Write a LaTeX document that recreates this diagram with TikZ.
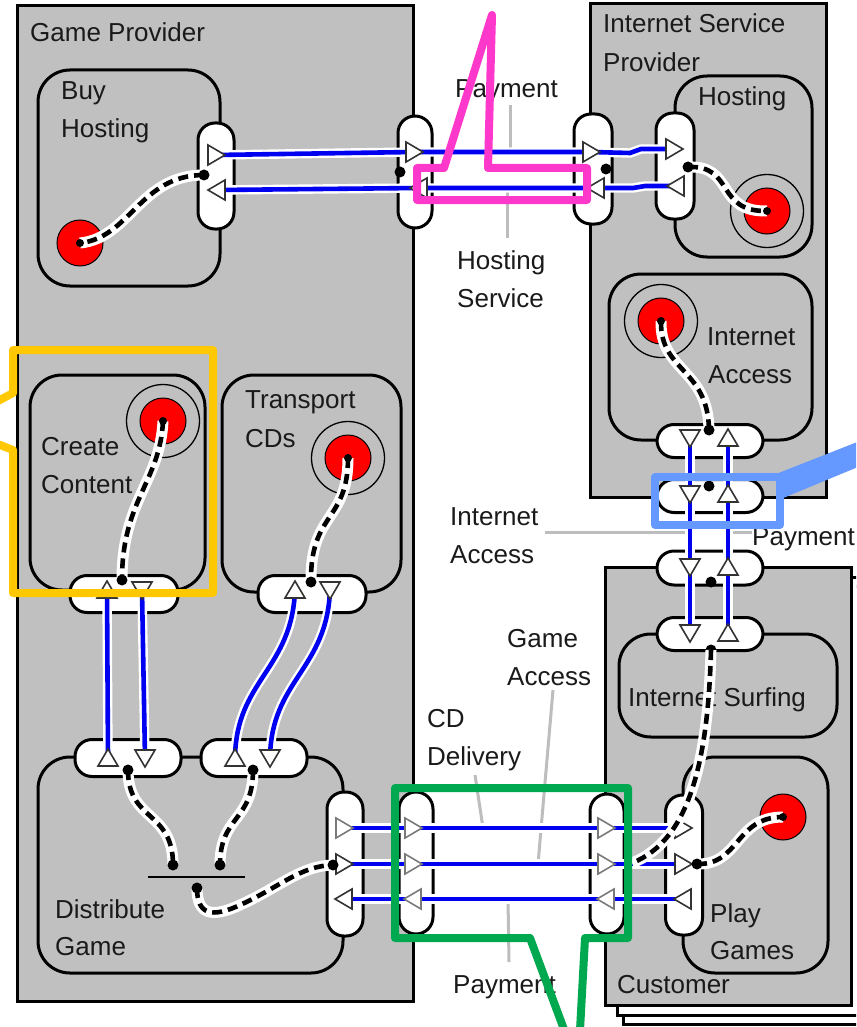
\documentclass[tikz,border=0pt]{standalone}
\usepackage{fontspec}
\setmainfont{Liberation Sans}
\usetikzlibrary{calc}
\definecolor{boxgray}{HTML}{C0C0C0}
\definecolor{txt}{HTML}{1A1A1A}
\definecolor{leadgray}{HTML}{BDBDBD}
\definecolor{conblue}{HTML}{0000F0}
\definecolor{cmag}{HTML}{FF38CC}
\definecolor{cyel}{HTML}{FFC800}
\definecolor{cblu}{HTML}{6699FF}
\definecolor{cgrn}{HTML}{00A94F}
\definecolor{tridark}{HTML}{333333}
\definecolor{trigray}{HTML}{7A7A7A}
\tikzset{
  sysbox/.style={draw=black, line width=3pt, fill=boxgray, rectangle, inner sep=0pt},
  subbox/.style={draw=black, line width=3pt, fill=boxgray, rectangle, rounded corners=32pt, inner sep=0pt},
  pill/.style={draw=black, line width=3pt, fill=white, rectangle, rounded corners=17pt, inner sep=0pt},
  flow/.style={draw=white, line width=2.4pt, double=conblue, double distance=4.6pt},
  dflow/.style={preaction={draw=white, line width=11pt, solid}, draw=black, line width=4.6pt, dash pattern=on 10pt off 6pt},
  reddot/.style={circle, fill=red, draw=black, line width=1pt, minimum size=46pt, inner sep=0pt},
  ringc/.style={circle, draw=black, line width=1.3pt, minimum size=73pt, inner sep=0pt},
  bdot/.style={circle, fill=black, minimum size=11pt, inner sep=0pt},
  cdot/.style={circle, fill=black, minimum size=8pt, inner sep=0pt},
  lbl/.style={anchor=base west, inner sep=0pt, text=txt, font=\fontsize{26}{38}\selectfont},
  leader/.style={draw=leadgray, line width=3pt},
  calloutline/.style={line width=8pt, line join=round},
  tri/.pic={\path[draw=tridark, fill=white, line width=1.6pt] (-8,-10) -- (9,0) -- (-8,10) -- cycle;},
  trig/.pic={\path[draw=trigray, fill=white, line width=1.6pt] (-8,-10) -- (9,0) -- (-8,10) -- cycle;},
}
\begin{document}
\begin{tikzpicture}[x=1pt,y=-1pt]
\clip (0,0) rectangle (856,1027);
\fill[white] (0,0) rectangle (856,1027);

% ---------------- systems
\node[sysbox, fill=white, minimum width=246pt, minimum height=438pt] (cus3) at (746,805) {};
\node[sysbox, fill=white, minimum width=246pt, minimum height=438pt] (cus2) at (740,796) {};
\node[sysbox, minimum width=246pt, minimum height=438pt] (cus) at (728,786) {};
\node[sysbox, minimum width=396pt, minimum height=995pt] (gp) at (215,503.5) {};
\node[sysbox, minimum width=236pt, minimum height=493pt] (isp) at (708,250.5) {};

% ---------------- activities
\node[subbox, minimum width=182pt, minimum height=216pt] (bh) at (129,178) {};
\node[subbox, minimum width=137pt, minimum height=181pt] (ho) at (743.5,166.5) {};
\node[subbox, minimum width=203pt, minimum height=166pt] (ia) at (710.5,357) {};
\node[subbox, minimum width=175pt, minimum height=215pt] (cc) at (117.5,482.5) {};
\node[subbox, minimum width=179pt, minimum height=217pt] (tc) at (311.5,483.5) {};
\node[subbox, minimum width=305pt, minimum height=216pt] (dg) at (190.5,865) {};
\node[subbox, minimum width=218pt, minimum height=103pt] (is) at (728,685.5) {};
\node[subbox, minimum width=145pt, minimum height=216pt] (pg) at (755.5,865) {};

% ---------------- labels
\node[lbl] (lgp) at (30,42) {Game Provider};
\node[lbl] (lisp1) at (603,33) {Internet Service};
\node[lbl] (lisp2) at (603,72) {Provider};
\node[lbl] (lho) at (698,106) {Hosting};
\node[lbl] (lpay1) at (455,98) {Payment};
\node[lbl] (lhs1) at (457,269) {Hosting};
\node[lbl] (lhs2) at (457,307) {Service};
\node[lbl] (lbh1) at (61,100) {Buy};
\node[lbl] (lbh2) at (61,138) {Hosting};
\node[lbl] (lcc1) at (41,455) {Create};
\node[lbl] (lcc2) at (41,493) {Content};
\node[lbl] (ltc1) at (245,408) {Transport};
\node[lbl] (ltc2) at (245,447) {CDs};
\node[lbl] (lia1) at (707,345) {Internet};
\node[lbl] (lia2) at (708,383) {Access};
\node[lbl] (lfa1) at (450,525) {Internet};
\node[lbl] (lfa2) at (450,563) {Access};
\node[lbl] (lpay2) at (752,545) {Payment};
\node[lbl] (lga1) at (507,647) {Game};
\node[lbl] (lga2) at (507,685) {Access};
\node[lbl] (lis) at (628,706) {Internet Surfing};
\node[lbl] (lcd1) at (427,727) {CD};
\node[lbl] (lcd2) at (427,765) {Delivery};
\node[lbl] (ldg1) at (55,918) {Distribute};
\node[lbl] (ldg2) at (55,955) {Game};
\node[lbl] (lpg1) at (710,922) {Play};
\node[lbl] (lpg2) at (710,959) {Games};
\node[lbl] (lpay3) at (453,993) {Payment};
\node[lbl] (lcus) at (617,993) {Customer};

% ---------------- start/end points
\node[ringc] (hoRing) at (767,211) {};
\node[ringc] (iaRing) at (661,321) {};
\node[ringc] (ccRing) at (163,421) {};
\node[ringc] (tcRing) at (348,458) {};
\node[reddot] (bhRed) at (80,243) {};
\node[reddot] (hoRed) at (767,211) {};
\node[reddot] (iaRed) at (661,321) {};
\node[reddot] (ccRed) at (163,421) {};
\node[reddot] (tcRed) at (348,458) {};
\node[reddot] (pgRed) at (783,817) {};

% ---------------- ports
\node[pill, minimum width=36pt, minimum height=106pt] (pBH) at (216,176) {};
\node[pill, minimum width=34pt, minimum height=112pt] (pGP1) at (415,172) {};
\node[pill, minimum width=38pt, minimum height=110pt] (pISP) at (593,169) {};
\node[pill, minimum width=38pt, minimum height=106pt] (pHO) at (675,166) {};
\node[pill, minimum width=106pt, minimum height=33pt] (pIA1) at (710,441) {};
\node[pill, minimum width=106pt, minimum height=33pt] (pIA2) at (710,496) {};
\node[pill, minimum width=106pt, minimum height=34pt] (pIA3) at (710,568) {};
\node[pill, minimum width=106pt, minimum height=33pt] (pIS) at (710,634) {};
\node[pill, minimum width=108pt, minimum height=37pt] (pCC) at (124,594) {};
\node[pill, minimum width=108pt, minimum height=37pt] (pTC) at (312,594) {};
\node[pill, minimum width=106pt, minimum height=37pt] (pDGa) at (128,758) {};
\node[pill, minimum width=106pt, minimum height=37pt] (pDGb) at (254,758) {};
\node[pill, minimum width=36pt, minimum height=144pt] (pDGr) at (345,864) {};
\node[pill, minimum width=34pt, minimum height=142pt] (pGP2) at (416,863) {};
\node[pill, minimum width=34pt, minimum height=140pt] (pCU) at (607,864) {};
\node[pill, minimum width=37pt, minimum height=140pt] (pPG) at (684,865) {};

% ---------------- label leaders
\draw[leader] (510,105) -- (510,152);
\draw[leader] (507,190) -- (507,238);
\draw[leader] (545,532) -- (690,532);
\draw[leader] (728,532) -- (752,532);
\draw[leader] (553,690) -- (538,864);
\draw[leader] (475,775) -- (483,828);
\draw[leader] (508,899) -- (509,962);

% ---------------- flow coordinates
\coordinate (bhA) at (216,155);  \coordinate (bhB) at (217,190);
\coordinate (gpA) at (414,152);  \coordinate (gpB) at (419,188);
\coordinate (ispA) at (591,152); \coordinate (ispB) at (596,188);
\coordinate (hoA) at (674,149);  \coordinate (hoB) at (676,186);
\coordinate (jA1) at (630,153);  \coordinate (jA2) at (641,149);
\coordinate (jB1) at (645,186);  \coordinate (jB2) at (633,188);
\coordinate (iaD1) at (690,438); \coordinate (iaD2) at (690,494); \coordinate (iaD3) at (690,567); \coordinate (iaD4) at (690,633);
\coordinate (iaU1) at (728,438); \coordinate (iaU2) at (728,494); \coordinate (iaU3) at (728,567); \coordinate (iaU4) at (728,633);
\coordinate (ccU) at (107,590); \coordinate (ccD) at (142,590);
\coordinate (tcU) at (295,590); \coordinate (tcD) at (330,590);
\coordinate (dgU) at (108,758); \coordinate (dgD) at (145,758);
\coordinate (dgU2) at (235,758); \coordinate (dgD2) at (270,758);
\foreach \n/\y in {1/828,2/864,3/899}{
  \coordinate (dgr\n) at (344,\y);
  \coordinate (gpp\n) at (413,\y);
  \coordinate (cu\n) at (606,\y);
  \coordinate (pgp\n) at (683,\y);
}

% ---------------- blue flows
\draw[flow] (bhA) -- (gpA) -- (ispA) -- (jA1) -- (jA2) -- (hoA);
\draw[flow] (hoB) -- (jB1) -- (jB2) -- (ispB) -- (gpB) -- (bhB);
\draw[flow] (iaD1) -- (iaD4);
\draw[flow] (iaU1) -- (iaU4);
\draw[flow] (ccU) -- (dgU);
\draw[flow] (ccD) -- (dgD);
\draw[flow] (tcU) .. controls (292,670) and (236,680) .. (dgU2);
\draw[flow] (tcD) .. controls (327,670) and (271,680) .. (dgD2);
\draw[flow] (dgr1) -- (gpp1) -- (cu1) -- (pgp1);
\draw[flow] (dgr2) -- (gpp2) -- (cu2) -- (pgp2);
\draw[flow] (dgr3) -- (gpp3) -- (cu3) -- (pgp3);

% ---------------- internal dots coordinates
\coordinate (bhDot) at (204,175);
\coordinate (hoDot) at (688,167);
\coordinate (iaDot) at (709,430);
\coordinate (isDot) at (711,650);
\coordinate (ccDot) at (122,580);
\coordinate (tcDot) at (311,582);
\coordinate (dgaDot) at (128,770);
\coordinate (dgbDot) at (253,770);
\coordinate (joinL) at (173,865);
\coordinate (joinR) at (220,865);
\coordinate (joinO) at (197,888);
\coordinate (dgrDot) at (333,865);
\coordinate (pgDot) at (697,864);
\coordinate (cuEnd) at (632,863);

% ---------------- dashed internal flows
\draw[dflow] (bhDot) .. controls (140,175) and (130,238) .. (bhRed.center);
\draw[dflow] (hoDot) .. controls (735,165) and (715,212) .. (hoRed.center);
\draw[dflow] (iaRed.center) .. controls (660,372) and (708,368) .. (iaDot);
\draw[dflow] (ccRed.center) .. controls (160,482) and (122,500) .. (ccDot);
\draw[dflow] (tcRed.center) .. controls (348,522) and (310,512) .. (tcDot);
\draw[dflow] (dgaDot) .. controls (128,822) and (173,810) .. (joinL);
\draw[dflow] (dgbDot) .. controls (253,822) and (220,815) .. (joinR);
\draw[dflow] (joinO) .. controls (197,915) and (212,918) .. (240,905) .. controls (280,887) and (300,866) .. (dgrDot);
\draw[dflow] (pgDot) .. controls (740,865) and (735,817) .. (pgRed.center);

% ---------------- port triangles
\pic at (bhA) {tri};            \pic[rotate=180] at (bhB) {tri};
\pic at (gpA) {tri};            \pic[rotate=180] at (gpB) {tri};
\pic at (ispA) {tri};           \pic[rotate=180] at (ispB) {tri};
\pic at (hoA) {tri};            \pic[rotate=180] at (hoB) {tri};
\foreach \n in {1,2,3,4}{
  \pic[rotate=-90] at (iaD\n) {tri};
  \pic[rotate=90] at (iaU\n) {tri};
}
\pic[rotate=90] at (ccU) {tri};  \pic[rotate=-90] at (ccD) {tri};
\pic[rotate=90] at (tcU) {tri};  \pic[rotate=-90] at (tcD) {tri};
\pic[rotate=90] at (dgU) {tri};  \pic[rotate=-90] at (dgD) {tri};
\pic[rotate=90] at (dgU2) {tri}; \pic[rotate=-90] at (dgD2) {tri};
\pic at (dgr1) {trig}; \pic at (dgr2) {tri}; \pic[rotate=180] at (dgr3) {tri};
\pic at (gpp1) {trig}; \pic at (gpp2) {trig}; \pic[rotate=180] at (gpp3) {trig};
\pic at (cu1) {trig}; \pic at (cu2) {trig}; \pic[rotate=180] at (cu3) {trig};
\pic at (pgp1) {tri}; \pic at (pgp2) {tri}; \pic[rotate=180] at (pgp3) {tri};

% ---------------- dots
\foreach \c in {bhDot,hoDot,iaDot,isDot,ccDot,tcDot,dgaDot,dgbDot,joinL,joinR,joinO,dgrDot,pgDot}{
  \node[bdot] at (\c) {};
}
\node[bdot] (gpDot) at (400,172) {};
\node[bdot] (ispDot) at (606,169) {};
\node[bdot] (ia2Dot) at (709,486) {};
\node[bdot] (ia3Dot) at (711,582) {};
\foreach \c in {bhRed,hoRed,iaRed,ccRed,tcRed,pgRed}{
  \node[cdot] at (\c.center) {};
}
\draw[black, line width=2pt] (148,877) -- (245,877);

% ---------------- flow crossing over port
\draw[dflow] (isDot) .. controls (708,760) and (690,840) .. (cuEnd);

% ---------------- callouts
\draw[calloutline, cmag] (417,168) -- (444,168) -- (492,15) -- (488,168) -- (587,168) -- (587,200) -- (417,200) -- cycle;
\draw[calloutline, cyel] (13,393) -- (13,350) -- (213,350) -- (213,593) -- (13,593) -- (13,450) -- (-49,426) -- cycle;
\draw[calloutline, cblu] (655,477) rectangle (780,525);
\fill[cblu] (776,474) -- (870,437) -- (870,462) -- (776,501) -- cycle;
\draw[calloutline, cgrn] (530,938) -- (395,938) -- (395,788) -- (628,788) -- (628,938) -- (585,938) -- (578,1067) -- cycle;
\end{tikzpicture}
\end{document}
